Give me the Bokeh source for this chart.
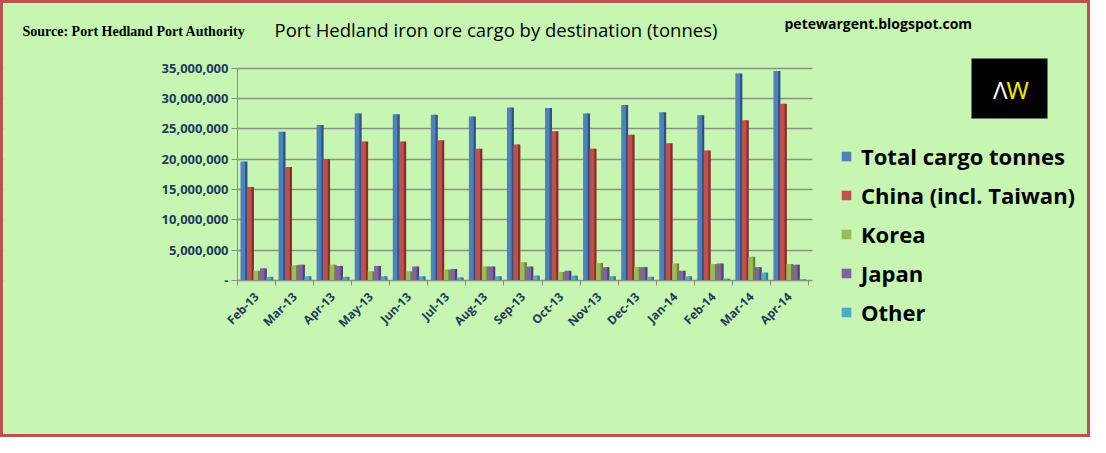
import math
from bokeh.plotting import figure
from bokeh.models import (Label, Legend, LegendItem, BoxAnnotation, FixedTicker,
                          NumeralTickFormatter, ColumnDataSource, Range1d)
from bokeh.transform import dodge
from bokeh.embed import file_html
from bokeh.resources import INLINE

# ---------------- data (tonnes) ----------------
months = ["Feb-13", "Mar-13", "Apr-13", "May-13", "Jun-13", "Jul-13", "Aug-13",
          "Sep-13", "Oct-13", "Nov-13", "Dec-13", "Jan-14", "Feb-14", "Mar-14", "Apr-14"]
total = [19600000, 24500000, 25600000, 27500000, 27400000, 27300000, 27000000,
         28500000, 28400000, 27500000, 28900000, 27700000, 27200000, 34100000, 34500000]
china = [15400000, 18700000, 20000000, 22900000, 22900000, 23100000, 21700000,
         22400000, 24600000, 21700000, 24000000, 22600000, 21400000, 26400000, 29100000]
korea = [1600000, 2500000, 2600000, 1500000, 1500000, 1800000, 2300000,
         3000000, 1400000, 2900000, 2200000, 2800000, 2700000, 3900000, 2700000]
japan = [2000000, 2600000, 2400000, 2400000, 2300000, 1900000, 2300000,
         2300000, 1600000, 2200000, 2200000, 1600000, 2800000, 2200000, 2600000]
other = [600000, 700000, 600000, 700000, 700000, 500000, 700000,
         800000, 800000, 700000, 600000, 700000, 300000, 1300000, 200000]

series_names = ["Total cargo tonnes", "China (incl. Taiwan)", "Korea", "Japan", "Other"]
series_keys = ["total", "china", "korea", "japan", "other"]
y_ticks = [0, 5000000, 10000000, 15000000, 20000000, 25000000, 30000000, 35000000]

title_text = "Port Hedland iron ore cargo by destination  (tonnes)"
source_text = "Source: Port Hedland Port Authority"
site_text = "petewargent.blogspot.com"

# ---------------- styling / layout (px) ----------------
BG = "#C7F5B2"
front_cols = ["#4F81BD", "#C0504D", "#9BBB59", "#8064A2", "#4BACC6"]
side_cols = ["#2E5283", "#8A2E2B", "#6A8536", "#553F73", "#2A7E96"]
NAVY = "#1F3B5C"
GRID = "#8A8F88"

W, H = 1090, 437          # outer size (3px red border drawn inside)
AX_X0, AX_X1 = 234, 805   # px span of the category axis
AX_Y35, AX_Y0 = 64.5, 277  # px (from top) of the 35M line and of the base line


def sy(y_from_top):
    return H - y_from_top


n = len(months)
idx = list(range(n))
src = ColumnDataSource(dict(idx=idx, total=total, china=china,
                            korea=korea, japan=japan, other=other))

unit = (AX_X1 - AX_X0) / n
x_start = -0.5 - AX_X0 / unit
x_end = (n - 0.5) + (W - AX_X1) / unit
ymax = y_ticks[-1]
ppy = (AX_Y0 - AX_Y35) / ymax
y_top = AX_Y0 / ppy
y_bot = -(H - AX_Y0) / ppy

p = figure(x_range=Range1d(x_start, x_end), y_range=Range1d(y_bot, y_top),
           width=W, height=H, output_backend="svg", toolbar_location=None,
           min_border=0, background_fill_color=BG, border_fill_color=BG,
           outline_line_color=None)
p.styles = {"border": "3px solid #C0504D"}

slot = 0.17
items = []
for i, key in enumerate(series_keys):
    off = (i - 2) * slot
    p.vbar(x=dodge("idx", off + 0.055), top=key, width=slot * 0.55, source=src,
           fill_color=side_cols[i], line_color=None)
    front = p.vbar(x=dodge("idx", off - 0.02), top=key, width=slot * 0.72,
                   source=src, fill_color=front_cols[i], line_color=None)
    items.append(LegendItem(label=series_names[i], renderers=[front]))

# y axis (wall edge at the left of the categories)
p.yaxis.fixed_location = -0.5
p.yaxis.ticker = y_ticks
p.yaxis.bounds = (0, ymax)
p.yaxis.formatter = NumeralTickFormatter(format="0,0")
p.yaxis.major_label_overrides = {0: "-"}
p.yaxis.major_label_text_font = "Open Sans"
p.yaxis.major_label_text_font_style = "bold"
p.yaxis.major_label_text_font_size = "13px"
p.yaxis.major_label_text_color = NAVY
p.yaxis.axis_line_color = GRID
p.yaxis.major_tick_line_color = GRID
p.yaxis.major_tick_out = 6
p.yaxis.major_tick_in = 0
p.yaxis.minor_tick_line_color = None
p.yaxis.major_label_standoff = 3

# x axis (floor edge, at value 0)
p.xaxis.fixed_location = 0
p.xaxis.bounds = (-0.5, n - 0.5)
p.xaxis.ticker = FixedTicker(ticks=idx, minor_ticks=[i - 0.5 for i in range(n + 1)])
p.xaxis.major_label_overrides = {i: m for i, m in zip(idx, months)}
p.xaxis.major_label_orientation = math.pi / 4
p.xaxis.major_label_text_font = "Open Sans"
p.xaxis.major_label_text_font_style = "bold"
p.xaxis.major_label_text_font_size = "12px"
p.xaxis.major_label_text_color = NAVY
p.xaxis.axis_line_color = GRID
p.xaxis.major_tick_line_color = None
p.xaxis.minor_tick_line_color = GRID
p.xaxis.minor_tick_out = 5
p.xaxis.minor_tick_in = 0
p.xaxis.major_label_standoff = 8

p.xgrid.grid_line_color = None
p.ygrid.grid_line_color = GRID
p.ygrid.grid_line_width = 1.5

# keep grid lines within the chart's wall (background masks, under the guides)
p.add_layout(BoxAnnotation(right=-0.5, fill_color=BG, fill_alpha=1,
                           line_color=None, level="underlay"))
p.add_layout(BoxAnnotation(left=n - 0.4, fill_color=BG, fill_alpha=1,
                           line_color=None, level="underlay"))

# header texts
p.add_layout(Label(x=19, y=sy(28), x_units="screen", y_units="screen",
                   text=source_text, text_font="Liberation Serif",
                   text_font_style="bold", text_font_size="14px",
                   text_color="#000000", text_baseline="middle"))
p.add_layout(Label(x=271, y=sy(26), x_units="screen", y_units="screen",
                   text=title_text, text_font="Open Sans", text_font_size="18.5px",
                   text_color="#000000", text_baseline="middle"))
p.add_layout(Label(x=781, y=sy(20), x_units="screen", y_units="screen",
                   text=site_text, text_font="Open Sans", text_font_style="bold",
                   text_font_size="14px", text_color="#000000",
                   text_baseline="middle"))

# legend
legend = Legend(items=items, location=(837, sy(324.3)), orientation="vertical",
                label_text_font="Open Sans", label_text_font_style="bold",
                label_text_font_size="22px", label_text_color="#000000",
                glyph_width=12, glyph_height=12, label_height=30, spacing=9,
                label_standoff=9, padding=0, margin=0,
                background_fill_alpha=0, border_line_color=None)
p.add_layout(legend, "center")

# logo
p.add_layout(BoxAnnotation(left=968, right=1044, top=sy(55), bottom=sy(115),
                           left_units="screen", right_units="screen",
                           top_units="screen", bottom_units="screen",
                           fill_color="#000000", fill_alpha=1, line_color=None))
p.add_layout(Label(x=1004, y=sy(86), x_units="screen", y_units="screen",
                   text="Λ", text_font="Noto Sans", text_font_size="24px",
                   text_color="#FFFFFF", text_align="right", text_baseline="middle"))
p.add_layout(Label(x=1003, y=sy(86), x_units="screen", y_units="screen",
                   text="W", text_font="Noto Sans", text_font_size="24px",
                   text_color="#F2E600", text_align="left", text_baseline="middle"))

open("out.html", "w").write(file_html(p, INLINE))
